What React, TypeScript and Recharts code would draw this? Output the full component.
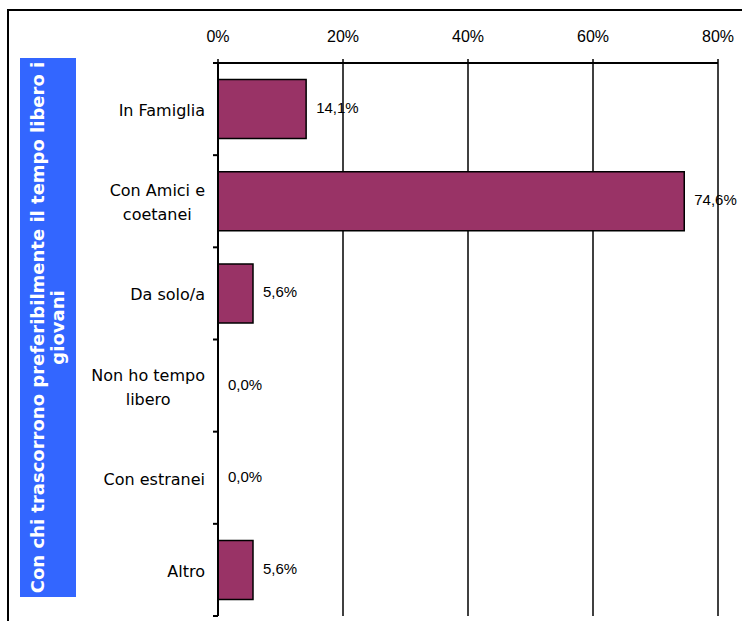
import React from "react";
import { BarChart, Bar, XAxis, YAxis, CartesianGrid, LabelList } from "recharts";

const categories = [
  "In Famiglia",
  "Con Amici e coetanei",
  "Da solo/a",
  "Non ho tempo libero",
  "Con estranei",
  "Altro",
];
const shares = [14.1, 74.6, 5.6, 0.0, 0.0, 5.6];
const percentTicks = [0, 20, 40, 60, 80];
const titleLines = [
  "Con chi trascorrono preferibilmente il tempo libero i",
  "giovani",
];

const data = categories.map((name, i) => ({ name, value: shares[i] }));

const W = 742;
const H = 621;
const TICK_SIZE = 5;
const TICK_MARGIN = 8;
const CAT_FONT = "16px 'DejaVu Sans'";
const LINE_H = 24;

let ctx: CanvasRenderingContext2D | null = null;
function measure(s: string) {
  if (!ctx) ctx = document.createElement("canvas").getContext("2d");
  if (!ctx) return s.length * 9;
  ctx.font = CAT_FONT;
  return ctx.measureText(s).width;
}

function wrap(label: string, maxChars = 12) {
  const lines: string[] = [];
  let cur = "";
  for (const w of label.split(" ")) {
    const next = cur ? cur + " " + w : w;
    if (next.length > maxChars && cur) {
      lines.push(cur);
      cur = w;
    } else cur = next;
  }
  if (cur) lines.push(cur);
  return lines;
}

function CategoryTick(props: any) {
  const { x, y, payload, index, visibleTicksCount } = props;
  const lines = wrap(String(payload.value));
  const blockW = Math.max(...lines.map(measure));
  const cx = x - blockW / 2;
  const axisX = x + TICK_MARGIN + TICK_SIZE;
  const half = payload.offset ?? 0;
  const first = y - ((lines.length - 1) * LINE_H) / 2 + 7;
  const last = index === visibleTicksCount - 1;
  return (
    <g>
      <line x1={axisX - TICK_SIZE} x2={axisX} y1={y - half} y2={y - half} stroke="#000" strokeWidth={2} />
      {last && (
        <line x1={axisX - TICK_SIZE} x2={axisX} y1={y + half} y2={y + half} stroke="#000" strokeWidth={2} />
      )}
      {lines.map((l, i) => (
        <text
          key={i}
          x={cx}
          y={first + i * LINE_H}
          textAnchor="middle"
          fontFamily="'DejaVu Sans'"
          fontSize={16}
          fill="#000"
        >
          {l}
        </text>
      ))}
    </g>
  );
}

const fmt = (v: any) => `${Number(v).toFixed(1).replace(".", ",")}%`;

function ValueLabel(props: any) {
  const { x, y, width, height, value } = props;
  if (x == null || y == null) return null;
  return (
    <text
      x={Number(x) + Number(width || 0) + 10}
      y={Number(y) + Number(height || 0) / 2}
      dy={4}
      fill="#000"
      fontSize={15}
      fontFamily="Arial"
    >
      {fmt(value)}
    </text>
  );
}

export default function App() {
  return (
    <div style={{ position: "absolute", left: 0, top: 0, width: W, height: H, overflow: "hidden", background: "#fff" }}>
      <div
        style={{
          position: "absolute",
          left: 7,
          top: 9,
          width: 800,
          height: 700,
          border: "2px solid #000",
        }}
      />
      <div style={{ position: "absolute", left: 0, top: 0 }}>
        <BarChart
          width={W}
          height={H}
          data={data}
          layout="vertical"
          margin={{ top: 33, right: 24, bottom: 5, left: 0 }}
          barCategoryGap="18%"
        >
          <CartesianGrid horizontal={false} stroke="#000" strokeWidth={1.5} />
          <XAxis
            type="number"
            orientation="top"
            height={30}
            domain={[0, 80]}
            ticks={percentTicks}
            tickFormatter={(v) => `${v}%`}
            tick={{ fill: "#000", fontSize: 16, fontFamily: "Arial" }}
            tickSize={4}
            tickMargin={17}
            tickLine={{ stroke: "#000", strokeWidth: 1.5 }}
            axisLine={{ stroke: "#000", strokeWidth: 2 }}
          />
          <YAxis
            type="category"
            dataKey="name"
            width={218}
            tick={<CategoryTick />}
            tickSize={TICK_SIZE}
            tickMargin={TICK_MARGIN}
            tickLine={false}
            axisLine={{ stroke: "#000", strokeWidth: 2 }}
            interval={0}
          />
          <Bar
            dataKey="value"
            fill="#993366"
            stroke="#000"
            strokeWidth={1.5}
            minPointSize={0.001}
            isAnimationActive={false}
          >
            <LabelList dataKey="value" content={<ValueLabel />} />
          </Bar>
        </BarChart>
      </div>
      <div
        style={{
          position: "absolute",
          left: 20,
          top: 58,
          width: 56,
          height: 539,
          background: "#3366FF",
        }}
      >
        <svg width={56} height={539}>
          {titleLines.map((t, i) => (
            <text
              key={i}
              x={24 + i * 20}
              y={269.5}
              transform={`rotate(-90 ${24 + i * 20} 269.5)`}
              textAnchor="middle"
              fontFamily="'DejaVu Sans'"
              fontWeight="bold"
              fontSize={18}
              fill="#fff"
            >
              {t}
            </text>
          ))}
        </svg>
      </div>
    </div>
  );
}
